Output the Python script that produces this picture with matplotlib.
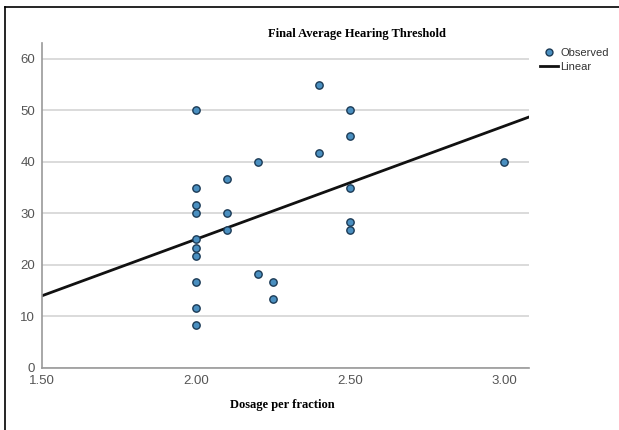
import numpy as np
import matplotlib
matplotlib.use("Agg")
import matplotlib.pyplot as plt
from matplotlib.lines import Line2D

# Dosage per fraction vs final average hearing threshold
dosage = [2.0, 2.0, 2.0, 2.0, 2.0, 2.0, 2.0, 2.0, 2.0, 2.0,
          2.1, 2.1, 2.1,
          2.2, 2.2,
          2.25, 2.25,
          2.4, 2.4,
          2.5, 2.5, 2.5, 2.5, 2.5,
          3.0]
threshold = [50, 35, 31.7, 30, 25, 23.3, 21.7, 16.7, 11.7, 8.3,
             36.7, 30, 26.7,
             40, 18.3,
             16.7, 13.3,
             55, 41.7,
             50, 45, 35, 28.3, 26.7,
             40]
# linear fit as drawn in the chart
fit_slope = 21.95
fit_intercept = -18.9
xticks = [1.5, 2.0, 2.5, 3.0]
yticks = [0, 10, 20, 30, 40, 50, 60]

x = np.array(dosage)
y = np.array(threshold)

fig = plt.figure(figsize=(6.19, 4.30), dpi=100)
ax = fig.add_axes([0.0679, 0.1442, 0.7867, 0.7558])

xlim = (1.5, 3.081)
ax.set_xlim(*xlim)
ax.set_ylim(0, 63.1)

ax.set_yticks(yticks)
ax.set_xticks(xticks)
ax.set_xticklabels(["%.2f" % t for t in xticks])
ax.grid(axis="y", color="#d4d4d4", linewidth=1.2, zorder=0)
ax.set_axisbelow(True)

xl = np.array(xlim)
ax.plot(xl, fit_intercept + fit_slope * xl, color="#111111", linewidth=2, zorder=2)
ax.scatter(x, y, s=28, facecolor="#4a8fc0", edgecolor="#1b3a55", linewidth=1.0, zorder=3)

for s in ["top", "right"]:
    ax.spines[s].set_visible(False)
for s in ["left", "bottom"]:
    ax.spines[s].set_color("#999999")
    ax.spines[s].set_linewidth(1.2)
ax.tick_params(length=0, labelsize=9.5, labelcolor="#555555")
ax.tick_params(axis="x", pad=5)
ax.tick_params(axis="y", pad=5)
for lab in ax.get_xticklabels() + ax.get_yticklabels():
    lab.set_family("Liberation Sans")

fig.text(0.577, 0.921, "Final Average Hearing Threshold", ha="center", va="center",
         family="Liberation Serif", fontweight="bold", fontsize=9)
fig.text(0.456, 0.058, "Dosage per fraction", ha="center", va="center",
         family="Liberation Serif", fontweight="bold", fontsize=9)

handles = [Line2D([], [], marker="o", linestyle="none", markersize=5,
                  markerfacecolor="#4a8fc0", markeredgecolor="#1b3a55"),
           Line2D([], [], color="#111111", linewidth=2)]
leg = fig.legend(handles, ["Observed", "Linear"], loc="upper left",
                 bbox_to_anchor=(0.872, 0.889), frameon=False,
                 prop={"family": "Liberation Sans", "size": 8},
                 handlelength=1.6, handletextpad=0.25, labelspacing=0.4,
                 borderaxespad=0, borderpad=0)
for t in leg.get_texts():
    t.set_color("#333333")

# frame lines on the left and top of the image
fig.add_artist(Line2D([0.008, 0.008], [0.0, 0.984], color="black", linewidth=1.2,
                      transform=fig.transFigure))
fig.add_artist(Line2D([0.008, 1.0], [0.984, 0.984], color="black", linewidth=1.2,
                      transform=fig.transFigure))

fig.savefig("out.png", dpi=100)
